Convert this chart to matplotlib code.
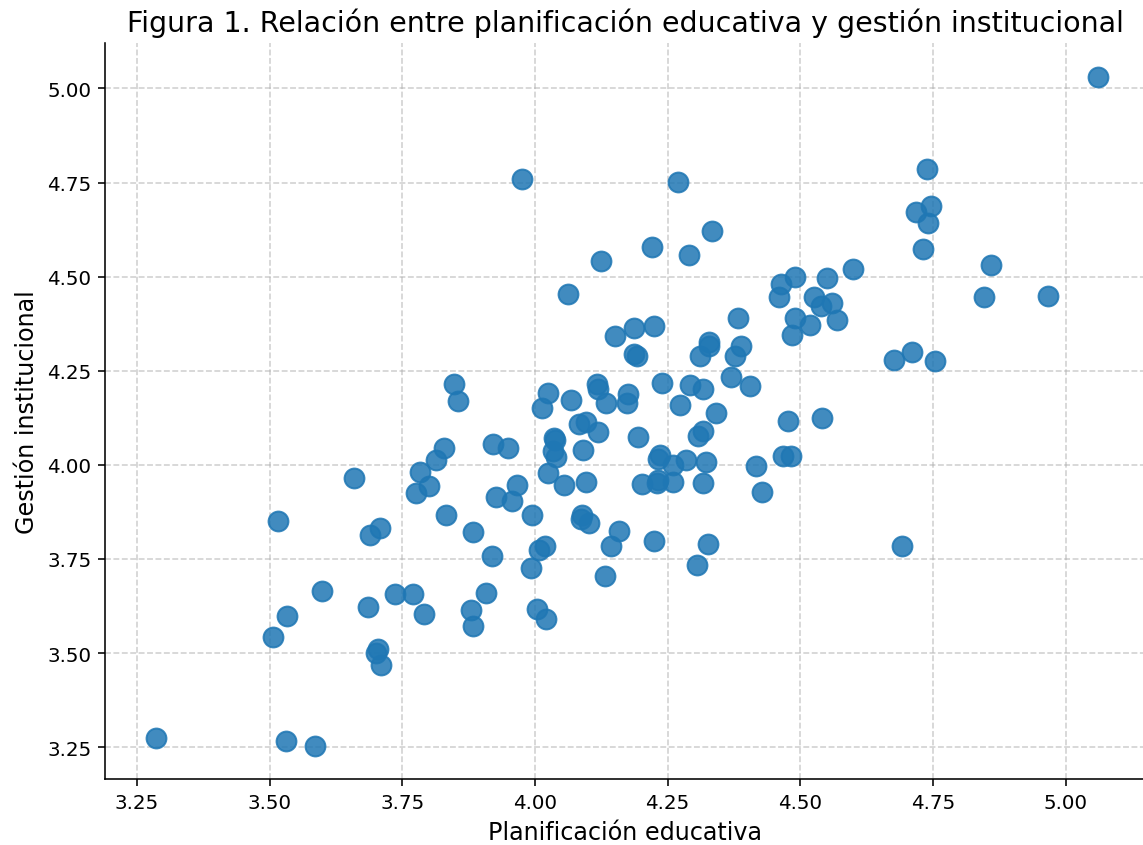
import numpy as np
import matplotlib
matplotlib.use("Agg")
import matplotlib.pyplot as plt

# Puntajes promedio por docente
planificacion = [
    3.286, 3.516, 3.507, 3.533, 3.531, 3.585, 3.598, 3.658, 3.690, 3.707,
    3.685, 3.705, 3.700, 3.710, 3.737, 3.771, 3.790, 3.776, 3.784, 3.800,
    3.814, 3.829, 3.833, 3.848, 3.855, 3.880, 3.883, 3.883, 3.908, 3.919,
    3.921, 3.926, 3.949, 3.956, 3.966, 3.975, 3.992, 3.994, 4.003, 4.007,
    4.018, 4.020, 4.013, 4.024, 4.024, 4.033, 4.035, 4.037, 4.039, 4.054,
    4.063, 4.067, 4.082, 4.087, 4.089, 4.101, 4.091, 4.097, 4.097, 4.117,
    4.119, 4.119, 4.125, 4.134, 4.132, 4.144, 4.151, 4.159, 4.174, 4.176,
    4.187, 4.187, 4.193, 4.194, 4.202, 4.221, 4.224, 4.224, 4.230, 4.232,
    4.232, 4.236, 4.239, 4.260, 4.260, 4.269, 4.273, 4.284, 4.290, 4.292,
    4.305, 4.307, 4.310, 4.316, 4.316, 4.316, 4.322, 4.326, 4.327, 4.327,
    4.333, 4.342, 4.369, 4.376, 4.382, 4.389, 4.406, 4.416, 4.427, 4.459,
    4.464, 4.468, 4.477, 4.483, 4.485, 4.489, 4.489, 4.519, 4.526, 4.539,
    4.541, 4.550, 4.560, 4.569, 4.599, 4.676, 4.691, 4.711, 4.717, 4.732,
    4.738, 4.741, 4.747, 4.753, 4.846, 4.860, 4.966, 5.060,
]
gestion = [
    3.274, 3.852, 3.544, 3.600, 3.268, 3.255, 3.664, 3.966, 3.815, 3.833,
    3.624, 3.512, 3.500, 3.470, 3.656, 3.656, 3.603, 3.926, 3.982, 3.945,
    4.014, 4.045, 3.868, 4.215, 4.170, 3.616, 3.573, 3.823, 3.661, 3.759,
    4.056, 3.915, 4.045, 3.905, 3.947, 4.759, 3.727, 3.868, 3.618, 3.775,
    3.786, 3.592, 4.151, 4.190, 3.979, 4.037, 4.072, 4.067, 4.021, 3.947,
    4.454, 4.173, 4.109, 3.857, 3.868, 3.846, 4.040, 4.114, 3.955, 4.215,
    4.202, 4.088, 4.541, 4.165, 3.706, 3.786, 4.342, 3.825, 4.165, 4.189,
    4.364, 4.295, 4.289, 4.075, 3.950, 4.578, 4.369, 3.799, 3.953, 4.016,
    3.960, 4.027, 4.218, 4.000, 3.955, 4.751, 4.159, 4.014, 4.557, 4.212,
    3.735, 4.077, 4.289, 4.090, 3.953, 4.202, 4.008, 3.791, 4.326, 4.316,
    4.621, 4.138, 4.234, 4.289, 4.390, 4.316, 4.210, 3.998, 3.929, 4.446,
    4.480, 4.024, 4.117, 4.024, 4.345, 4.390, 4.499, 4.372, 4.446, 4.422,
    4.125, 4.496, 4.430, 4.385, 4.520, 4.279, 3.786, 4.300, 4.671, 4.573,
    4.785, 4.642, 4.687, 4.276, 4.446, 4.531, 4.448, 5.030,
]

x_ticks = [3.25, 3.50, 3.75, 4.00, 4.25, 4.50, 4.75, 5.00]
y_ticks = [3.25, 3.50, 3.75, 4.00, 4.25, 4.50, 4.75, 5.00]

fig = plt.figure(figsize=(8, 5.92), dpi=142.875)
ax = fig.add_axes([0.092, 0.078, 0.91, 0.870])

ax.scatter(planificacion, gestion, s=100, color='tab:blue', alpha=0.85, zorder=3)

ax.set_xlim(3.19, 5.15)
ax.set_ylim(3.166, 5.12)
ax.set_xticks(x_ticks)
ax.set_yticks(y_ticks)
ax.xaxis.set_major_formatter(matplotlib.ticker.FormatStrFormatter('%.2f'))
ax.yaxis.set_major_formatter(matplotlib.ticker.FormatStrFormatter('%.2f'))

ax.set_title('Figura 1. Relación entre planificación educativa y gestión institucional', fontsize=14.4)
ax.set_xlabel('Planificación educativa', fontsize=12)
ax.set_ylabel('Gestión institucional', fontsize=12)
ax.grid(True, linestyle='--', alpha=0.6)
ax.spines['top'].set_visible(False)
ax.spines['right'].set_visible(False)

fig.savefig('out.png', dpi=142.875)
